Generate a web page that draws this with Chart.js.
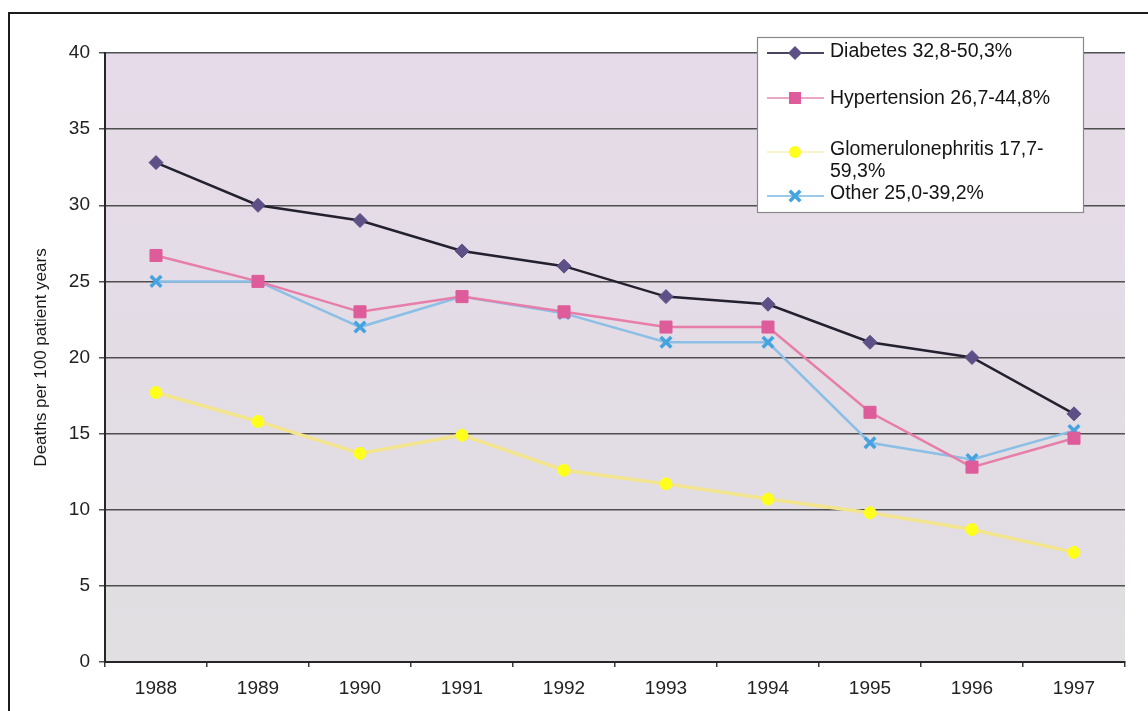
<!DOCTYPE html>
<html>
<head>
<meta charset="utf-8">
<script src="https://cdn.jsdelivr.net/npm/chart.js@4.4.1/dist/chart.umd.min.js"></script>
<style>
  html, body { margin: 0; padding: 0; background: #ffffff; }
  #wrap { width: 1148px; height: 711px; position: relative; }
</style>
</head>
<body>
<div id="wrap"><canvas id="c" width="1148" height="711"></canvas></div>
<script>
// Mortality by primary renal disease, deaths per 100 patient years
const years = ['1988', '1989', '1990', '1991', '1992', '1993', '1994', '1995', '1996', '1997'];
const diabetes = [32.8, 30.0, 29.0, 27.0, 26.0, 24.0, 23.5, 21.0, 20.0, 16.3];
const hypertension = [26.7, 25.0, 23.0, 24.0, 23.0, 22.0, 22.0, 16.4, 12.8, 14.7];
const glomerulonephritis = [17.7, 15.8, 13.7, 14.9, 12.6, 11.7, 10.7, 9.8, 8.7, 7.2];
const other = [25.0, 25.0, 22.0, 24.0, 22.9, 21.0, 21.0, 14.4, 13.3, 15.2];

const seriesNames = ['Diabetes', 'Hypertension', 'Glomerulonephritis', 'Other'];
const legendLines = [
  ['Diabetes 32,8-50,3%'],
  ['Hypertension 26,7-44,8%'],
  ['Glomerulonephritis 17,7-', '59,3%'],
  ['Other 25,0-39,2%']
];
const yAxisTitle = 'Deaths per 100 patient years';
const yMin = 0, yMax = 40, yStep = 5;

const FONT = "'Liberation Sans', Arial, sans-serif";
Chart.defaults.font.family = FONT;

// plot-area fill and the outer frame lines
const backdrop = {
  id: 'backdrop',
  beforeDraw(chart) {
    const { ctx, chartArea: a } = chart;
    ctx.save();
    const g = ctx.createLinearGradient(0, a.top, 0, a.bottom);
    g.addColorStop(0, '#e6dbe8');
    g.addColorStop(0.5, '#e3dce5');
    g.addColorStop(1, '#e1dfe2');
    ctx.fillStyle = g;
    ctx.fillRect(a.left, a.top, a.right - a.left, a.bottom - a.top);
    ctx.strokeStyle = '#1c1c1c';
    ctx.lineWidth = 2;
    ctx.beginPath();
    ctx.moveTo(9, 711);
    ctx.lineTo(9, 13);
    ctx.lineTo(1148, 13);
    ctx.stroke();
    ctx.restore();
  }
};

function drawMarker(ctx, style, x, y, r, fill, stroke, lw) {
  ctx.save();
  ctx.fillStyle = fill;
  ctx.strokeStyle = stroke;
  ctx.lineWidth = lw;
  ctx.beginPath();
  if (style === 'rectRot') {
    ctx.moveTo(x, y - r); ctx.lineTo(x + r, y); ctx.lineTo(x, y + r); ctx.lineTo(x - r, y); ctx.closePath();
    ctx.fill();
  } else if (style === 'rect') {
    const s = r * Math.SQRT1_2;
    ctx.rect(x - s, y - s, 2 * s, 2 * s);
    ctx.fill();
  } else if (style === 'circle') {
    ctx.arc(x, y, r, 0, Math.PI * 2);
    ctx.fill();
  } else if (style === 'crossRot') {
    const d = r * Math.SQRT1_2;
    ctx.moveTo(x - d, y - d); ctx.lineTo(x + d, y + d);
    ctx.moveTo(x - d, y + d); ctx.lineTo(x + d, y - d);
    ctx.stroke();
  }
  ctx.restore();
}

// boxed legend sitting inside the plot area
const boxLegend = {
  id: 'boxLegend',
  afterDraw(chart) {
    const { ctx } = chart;
    const bx = 757, by = 37, bw = 326, bh = 175;
    ctx.save();
    ctx.fillStyle = '#ffffff';
    ctx.fillRect(bx, by, bw, bh);
    ctx.strokeStyle = '#8a8a8a';
    ctx.lineWidth = 1.2;
    ctx.strokeRect(bx + 0.5, by + 0.5, bw, bh);

    const rowY = [53, 98, 152, 196];
    const textY = [[52], [99], [150, 172], [194]];
    const sampleLine = ['#4a4560', '#eaa6c6', '#fbf4c8', '#9cc8ea'];
    chart.data.datasets.forEach((ds, i) => {
      const y = rowY[i];
      ctx.strokeStyle = sampleLine[i];
      ctx.lineWidth = 2;
      ctx.beginPath();
      ctx.moveTo(767, y);
      ctx.lineTo(824, y);
      ctx.stroke();
      drawMarker(ctx, ds.pointStyle, 795, y, ds.pointRadius, ds.pointBackgroundColor, ds.pointBorderColor, ds.pointBorderWidth);
      ctx.fillStyle = '#141414';
      ctx.font = '19.5px ' + FONT;
      ctx.textBaseline = 'middle';
      ctx.textAlign = 'left';
      legendLines[i].forEach((t, k) => ctx.fillText(t, 830, textY[i][k]));
    });
    ctx.restore();
  }
};

const chart = new Chart(document.getElementById('c'), {
  type: 'line',
  data: {
    labels: years,
    datasets: [
      {
        label: seriesNames[0], data: diabetes,
        borderColor: '#23202f', borderWidth: 2.5,
        pointStyle: 'rectRot', pointRadius: 7,
        pointBackgroundColor: '#5d5086', pointBorderColor: '#5d5086', pointBorderWidth: 1
      },
      {
        label: seriesNames[1], data: hypertension,
        borderColor: '#e77eaa', borderWidth: 2.5,
        pointStyle: 'rect', pointRadius: 8.5,
        pointBackgroundColor: '#df5c9a', pointBorderColor: '#df5c9a', pointBorderWidth: 1
      },
      {
        label: seriesNames[2], data: glomerulonephritis,
        borderColor: '#f3e48e', borderWidth: 3.5,
        pointStyle: 'circle', pointRadius: 6,
        pointBackgroundColor: '#ffff1e', pointBorderColor: '#ffff1e', pointBorderWidth: 1
      },
      {
        label: seriesNames[3], data: other,
        borderColor: '#8cbfe6', borderWidth: 2.5,
        pointStyle: 'crossRot', pointRadius: 7.5,
        pointBackgroundColor: '#45a3df', pointBorderColor: '#45a3df', pointBorderWidth: 3.5
      }
    ]
  },
  options: {
    responsive: false,
    animation: false,
    devicePixelRatio: 1,
    layout: { padding: { left: 0, right: 23, top: 53, bottom: 0 } },
    elements: { line: { tension: 0 } },
    plugins: {
      legend: { display: false },
      tooltip: { enabled: false }
    },
    scales: {
      x: {
        type: 'category',
        offset: true,
        grid: { offset: true, drawOnChartArea: false, drawTicks: true, tickLength: 5, color: '#3a3a3a', lineWidth: 1.5 },
        border: { color: '#262626', width: 2 },
        ticks: { color: '#222222', font: { size: 19 }, padding: 10, maxRotation: 0 },
        afterFit(s) { s.height = 49; }
      },
      y: {
        min: yMin, max: yMax,
        ticks: { stepSize: yStep, color: '#222222', font: { size: 19 }, padding: 9 },
        grid: { color: 'rgba(62,62,62,0.9)', lineWidth: 1.5, tickLength: 6, drawTicks: true },
        border: { color: '#262626', width: 2 },
        title: { display: true, text: yAxisTitle, color: '#1a1a1a', font: { size: 17 }, padding: { top: 31, bottom: 0 } },
        afterFit(s) { s.width = 105; }
      }
    }
  },
  plugins: [backdrop, boxLegend]
});
</script>
</body>
</html>
